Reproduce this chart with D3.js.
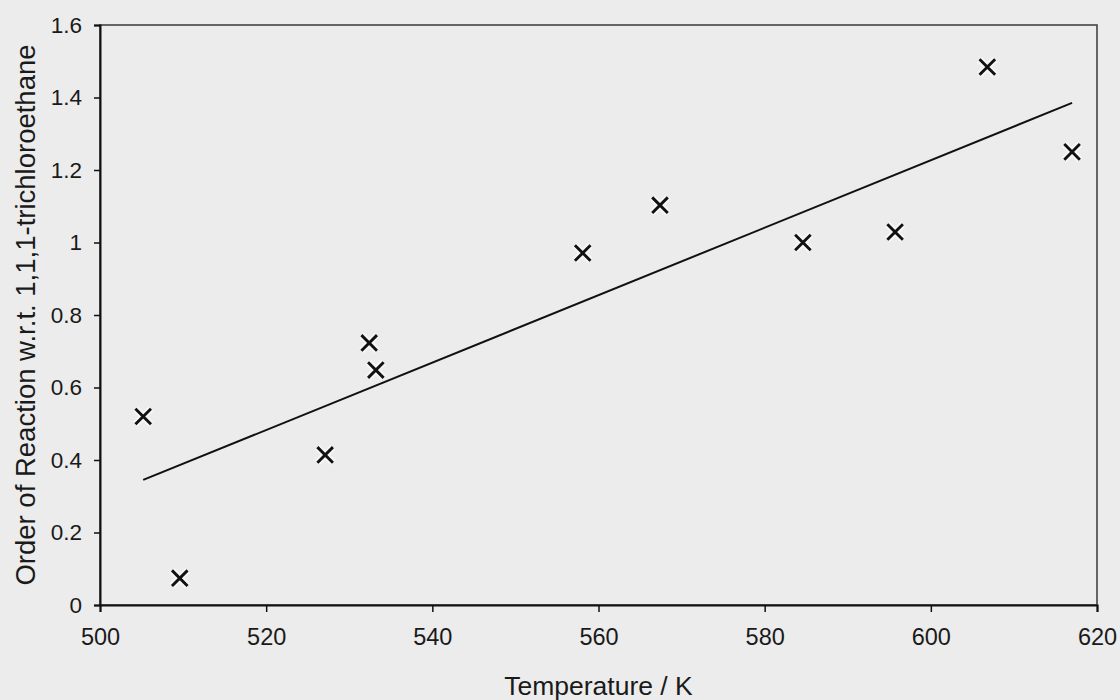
<!DOCTYPE html>
<html>
<head>
<meta charset="utf-8">
<script src="https://cdn.jsdelivr.net/npm/d3@7"></script>
<style>
  body { margin: 0; background: #ececec; }
  svg { display: block; }
  text { font-family: "Liberation Sans", Arial, sans-serif; fill: #1a1a1a; }
</style>
</head>
<body>
<div id="chart"></div>
<script>
// measured points (temperature in K, reaction order)
const temps = [505.2, 509.6, 527.1, 532.4, 533.2, 558.1, 567.4, 584.6, 595.7, 606.8, 617.0];
const orders = [0.52, 0.074, 0.414, 0.723, 0.648, 0.971, 1.103, 1.0, 1.029, 1.484, 1.25];

// linear trend line end points
const trendT = [505.2, 617.0];
const trendOrder = [0.345, 1.385];

const xTicks = [500, 520, 540, 560, 580, 600, 620];
const yTicks = [0, 0.2, 0.4, 0.6, 0.8, 1, 1.2, 1.4, 1.6];

const margin = {top: 25, right: 23, bottom: 95, left: 100},
    width = 1120 - margin.left - margin.right,
    height = 700 - margin.top - margin.bottom;

const svg = d3.select("#chart")
    .append("svg")
        .attr("width", 1120)
        .attr("height", 700)
    .append("g")
        .attr("transform", `translate(${margin.left},${margin.top})`);

const xScale = d3.scaleLinear().domain([500, 620]).range([0, width]);
const yScale = d3.scaleLinear().domain([0, 1.6]).range([height, 0]);

// frame (top and right sides)
svg.append("rect")
    .attr("width", width)
    .attr("height", height)
    .attr("fill", "none")
    .attr("stroke", "#444")
    .attr("stroke-width", 1.6);

const xAxis = svg.append("g")
    .attr("transform", `translate(0, ${height})`)
    .call(d3.axisBottom(xScale).tickValues(xTicks).tickSize(7).tickPadding(16));

const yAxis = svg.append("g")
    .call(d3.axisLeft(yScale).tickValues(yTicks).tickSize(6).tickPadding(12)
        .tickFormat(d => d3.format("")(+d.toFixed(1))));

[xAxis, yAxis].forEach(ax => {
    ax.select(".domain").attr("stroke", "#111").attr("stroke-width", 2);
    ax.selectAll(".tick line").attr("stroke", "#111").attr("stroke-width", 1.5);
    ax.selectAll(".tick text").attr("fill", "#1a1a1a");
});
xAxis.selectAll(".tick text").style("font-size", "23.5px");
yAxis.selectAll(".tick text").style("font-size", "22.5px");

// trend line
svg.append("path")
    .datum(d3.zip(trendT, trendOrder))
    .attr("fill", "none")
    .attr("stroke", "#111")
    .attr("stroke-width", 2)
    .attr("d", d3.line()
        .x(d => xScale(d[0]))
        .y(d => yScale(d[1])));

// cross markers
const cross = d3.symbol().type(d3.symbolTimes).size(160);
const pts = d3.zip(temps, orders);

svg.selectAll(".halo")
    .data(pts)
    .join("path")
        .attr("class", "halo")
        .attr("transform", d => `translate(${xScale(d[0])},${yScale(d[1])})`)
        .attr("d", cross)
        .attr("fill", "none")
        .attr("stroke", "#f6f6f6")
        .attr("stroke-width", 7);

svg.selectAll(".pt")
    .data(pts)
    .join("path")
        .attr("class", "pt")
        .attr("transform", d => `translate(${xScale(d[0])},${yScale(d[1])})`)
        .attr("d", cross)
        .attr("fill", "none")
        .attr("stroke", "#111")
        .attr("stroke-width", 2.9);

// axis titles
svg.append("text")
    .attr("x", width / 2)
    .attr("y", height + 90)
    .attr("text-anchor", "middle")
    .style("font-size", "26.5px")
    .text("Temperature / K");

svg.append("text")
    .attr("transform", `translate(-65, ${height / 2}) rotate(-90)`)
    .attr("text-anchor", "middle")
    .style("font-size", "27.5px")
    .text("Order of Reaction w.r.t. 1,1,1-trichloroethane");
</script>
</body>
</html>
